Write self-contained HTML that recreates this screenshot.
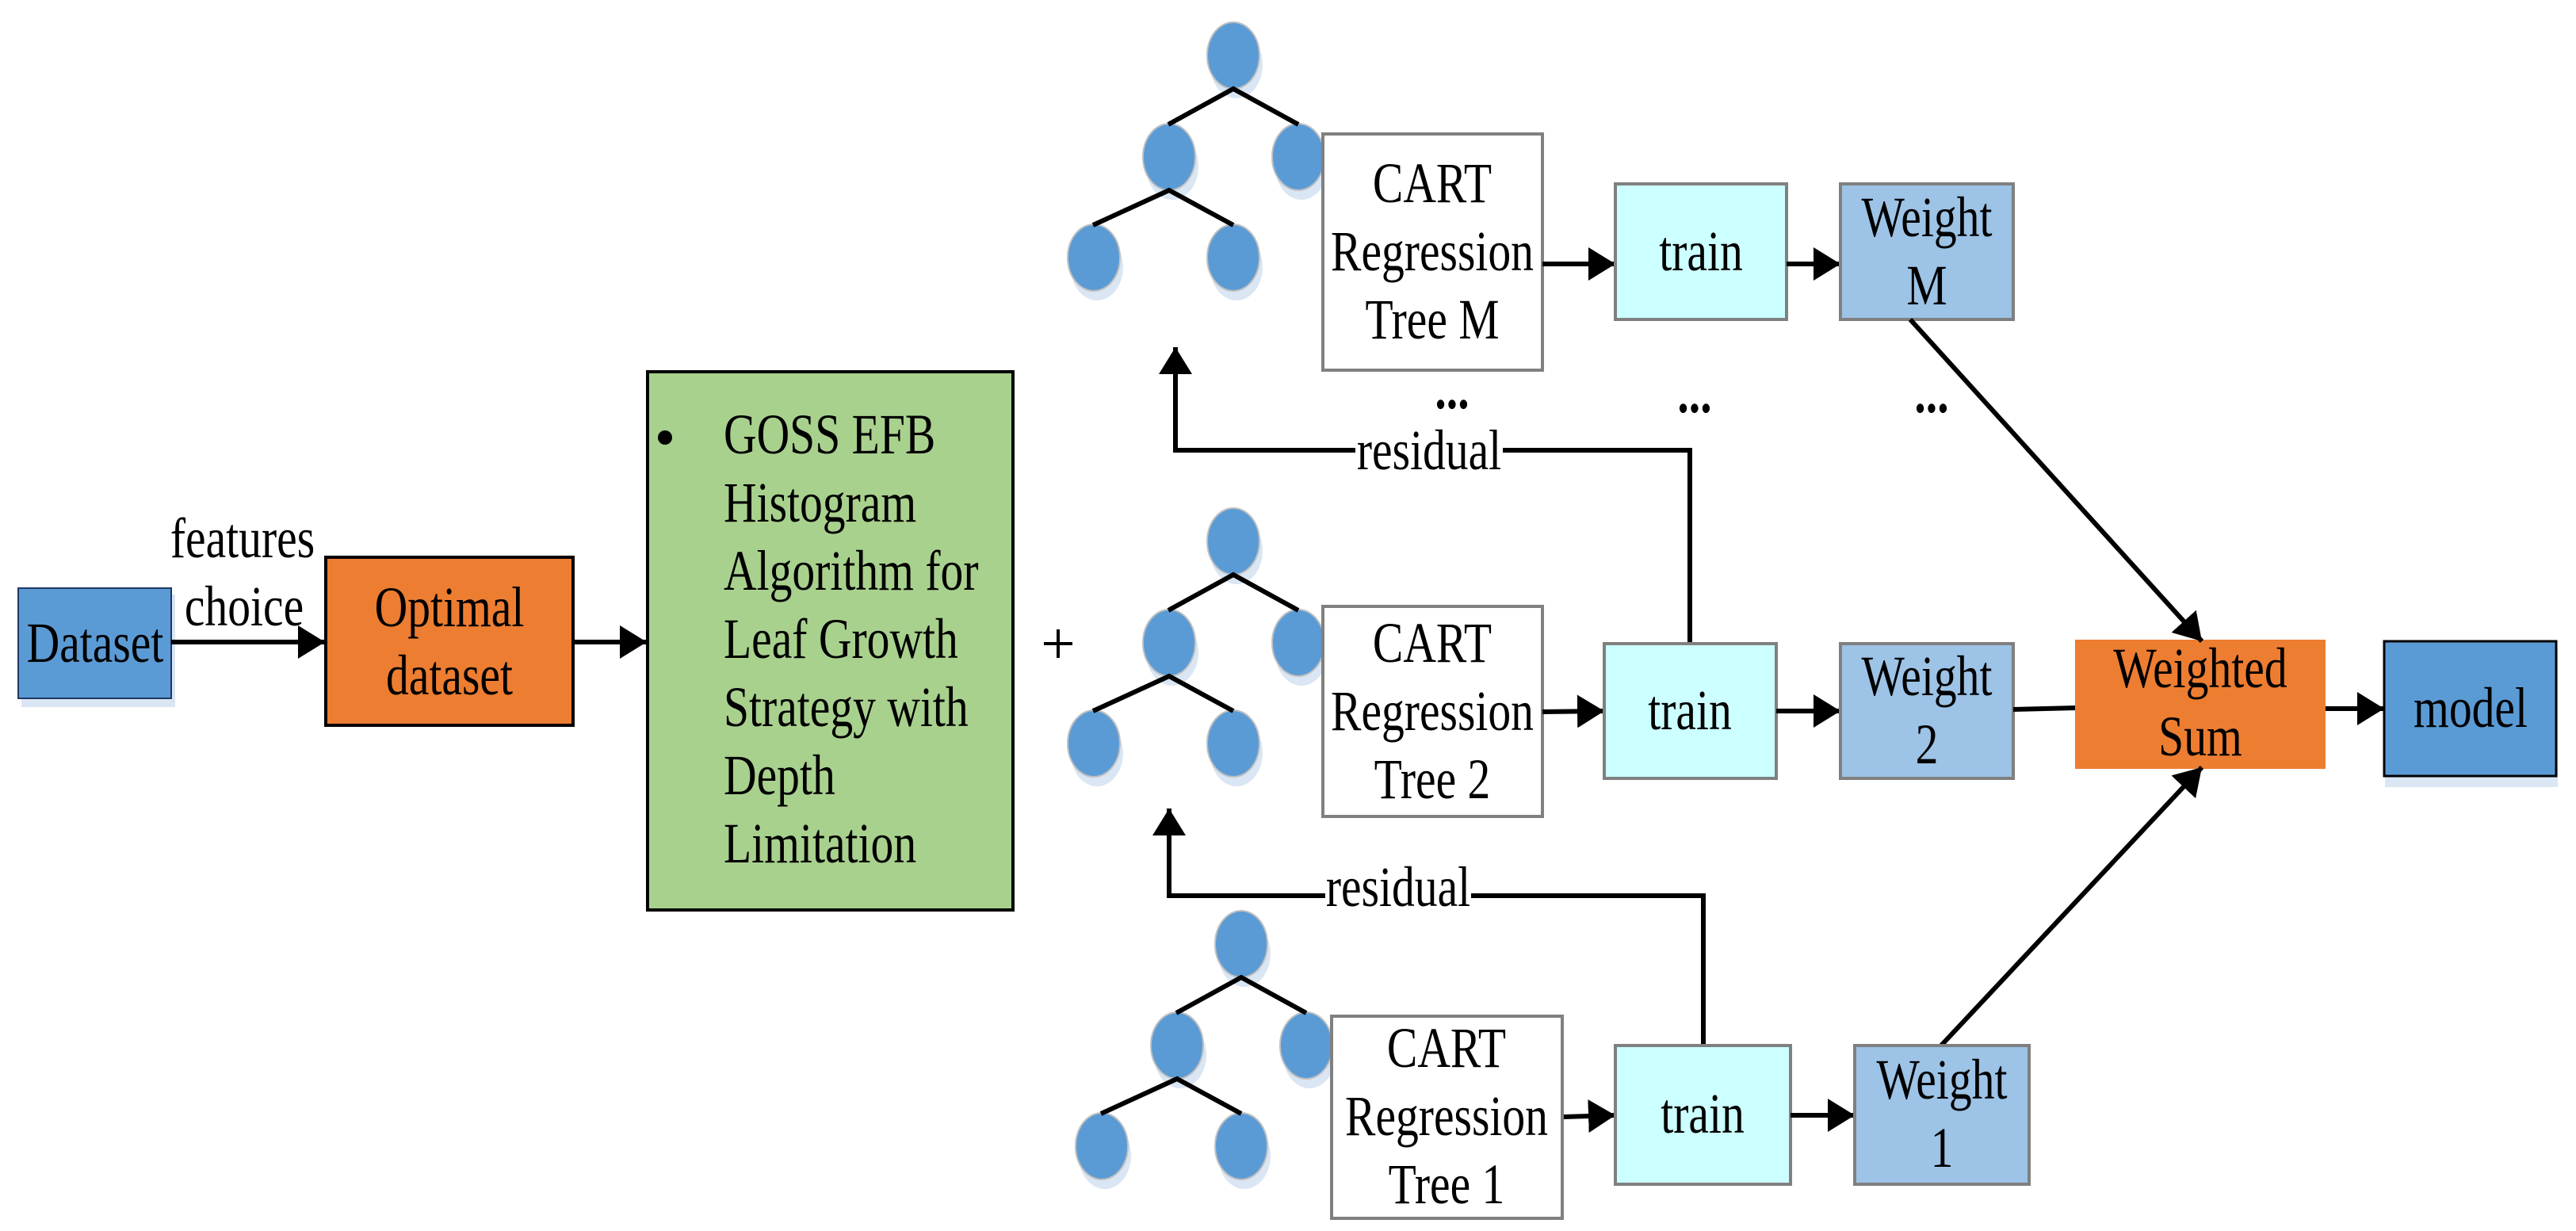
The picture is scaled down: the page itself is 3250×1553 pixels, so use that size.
<!DOCTYPE html>
<html><head><meta charset="utf-8"><style>
html,body{margin:0;padding:0;background:#fff;}
svg{display:block;}
svg text{font-family:"Liberation Serif","Times New Roman","DejaVu Serif",serif;font-size:72px;fill:#000;}
</style></head><body>
<svg width="3250" height="1553" viewBox="0 0 3250 1553" xmlns="http://www.w3.org/2000/svg" font-family="Liberation Serif, Times New Roman, DejaVu Serif, serif">
<defs>
<g id="tree">
  <g fill="#dae6f3">
    <ellipse cx="1560" cy="82" rx="33" ry="42"/>
    <ellipse cx="1479" cy="210" rx="33" ry="42"/>
    <ellipse cx="1642" cy="210" rx="33" ry="42"/>
    <ellipse cx="1384" cy="337" rx="33" ry="42"/>
    <ellipse cx="1560" cy="337" rx="33" ry="42"/>
  </g>
  <g fill="#5b9bd5" stroke="#c0c0c0" stroke-width="2">
    <ellipse cx="1556" cy="70" rx="33" ry="42"/>
    <ellipse cx="1475" cy="198" rx="33" ry="42"/>
    <ellipse cx="1638" cy="198" rx="33" ry="42"/>
    <ellipse cx="1380" cy="325" rx="33" ry="42"/>
    <ellipse cx="1556" cy="325" rx="33" ry="42"/>
  </g>
  <g stroke="#000" stroke-width="6" fill="none">
    <polyline points="1474,157 1556,112 1638,157"/>
    <polyline points="1379,284 1475,240 1556,284"/>
  </g>
</g>
<marker id="ah" viewBox="0 0 34 42" refX="34" refY="21" markerWidth="34" markerHeight="42" markerUnits="userSpaceOnUse" orient="auto">
  <path d="M0,0 L34,21 L0,42 Z" fill="#000"/>
</marker>
</defs>

<rect x="27" y="750" width="194" height="142" fill="#dae6f3"/>
<rect x="23" y="742" width="193" height="139" fill="#5b9bd5" stroke="#1f3864" stroke-width="2"/>
<text transform="translate(120,835) scale(0.8,1)" text-anchor="middle">Dataset</text>

<text transform="translate(306,703) scale(0.8,1)" text-anchor="middle">features</text>
<text transform="translate(308,789) scale(0.8,1)" text-anchor="middle">choice</text>
<line x1="216" y1="810" x2="410" y2="810" stroke="#000" stroke-width="6" marker-end="url(#ah)"/>

<rect x="411" y="703" width="312" height="212" fill="#ed7d31" stroke="#000" stroke-width="4"/>
<text transform="translate(567,790) scale(0.8,1)" text-anchor="middle">Optimal</text>
<text transform="translate(567,876) scale(0.8,1)" text-anchor="middle">dataset</text>
<line x1="723" y1="810" x2="816" y2="810" stroke="#000" stroke-width="6" marker-end="url(#ah)"/>

<rect x="817" y="469" width="461" height="679" fill="#a9d18e" stroke="#000" stroke-width="4"/>
<circle cx="839" cy="552" r="9" fill="#000"/>
<text transform="translate(913,572) scale(0.8,1)">GOSS EFB</text>
<text transform="translate(913,658) scale(0.8,1)">Histogram</text>
<text transform="translate(913,744) scale(0.8,1)">Algorithm for</text>
<text transform="translate(913,830) scale(0.8,1)">Leaf Growth</text>
<text transform="translate(913,916) scale(0.8,1)">Strategy with</text>
<text transform="translate(913,1002) scale(0.8,1)">Depth</text>
<text transform="translate(913,1088) scale(0.8,1)">Limitation</text>
<g stroke="#000" stroke-width="4">
  <line x1="1317" y1="812" x2="1353" y2="812"/>
  <line x1="1335" y1="794" x2="1335" y2="830"/>
</g>

<use href="#tree"/>
<use href="#tree" transform="translate(0,613)"/>
<use href="#tree" transform="translate(10,1121)"/>

<g stroke="#000" stroke-width="6" fill="none">
  <polyline points="2132,812 2132,568 1483,568 1483,438" marker-end="url(#ah)"/>
  <polyline points="2149,1319 2149,1130 1475,1130 1475,1020" marker-end="url(#ah)"/>
</g>
<rect x="1710" y="540" width="186" height="62" fill="#fff"/>
<text transform="translate(1803,592) scale(0.8,1)" text-anchor="middle">residual</text>
<rect x="1672" y="1100" width="184" height="58" fill="#fff"/>
<text transform="translate(1764,1143) scale(0.8,1)" text-anchor="middle">residual</text>

<rect x="1669" y="169" width="277" height="298" fill="#fff" stroke="#808080" stroke-width="4"/>
<text transform="translate(1807,255) scale(0.8,1)" text-anchor="middle">CART</text>
<text transform="translate(1807,341) scale(0.8,1)" text-anchor="middle">Regression</text>
<text transform="translate(1807,427) scale(0.8,1)" text-anchor="middle">Tree M</text>
<line x1="1946" y1="333" x2="2038" y2="333" stroke="#000" stroke-width="6" marker-end="url(#ah)"/>
<rect x="2038" y="232" width="216" height="171" fill="#ccffff" stroke="#808080" stroke-width="4"/>
<text transform="translate(2146,341) scale(0.8,1)" text-anchor="middle">train</text>
<line x1="2254" y1="333" x2="2322" y2="333" stroke="#000" stroke-width="6" marker-end="url(#ah)"/>
<rect x="2322" y="232" width="218" height="171" fill="#9dc3e6" stroke="#808080" stroke-width="4"/>
<text transform="translate(2431,298) scale(0.8,1)" text-anchor="middle">Weight</text>
<text transform="translate(2431,384) scale(0.8,1)" text-anchor="middle">M</text>

<text transform="translate(1832,515) scale(0.8,1)" text-anchor="middle" font-weight="bold">...</text>
<text transform="translate(2138,520) scale(0.8,1)" text-anchor="middle" font-weight="bold">...</text>
<text transform="translate(2437,520) scale(0.8,1)" text-anchor="middle" font-weight="bold">...</text>

<rect x="1669" y="765" width="277" height="265" fill="#fff" stroke="#808080" stroke-width="4"/>
<text transform="translate(1807,835) scale(0.8,1)" text-anchor="middle">CART</text>
<text transform="translate(1807,921) scale(0.8,1)" text-anchor="middle">Regression</text>
<text transform="translate(1807,1007) scale(0.8,1)" text-anchor="middle">Tree 2</text>
<line x1="1946" y1="898" x2="2024" y2="897" stroke="#000" stroke-width="6" marker-end="url(#ah)"/>
<rect x="2024" y="812" width="217" height="170" fill="#ccffff" stroke="#808080" stroke-width="4"/>
<text transform="translate(2132,920) scale(0.8,1)" text-anchor="middle">train</text>
<line x1="2241" y1="897" x2="2322" y2="897" stroke="#000" stroke-width="6" marker-end="url(#ah)"/>
<rect x="2322" y="812" width="218" height="170" fill="#9dc3e6" stroke="#808080" stroke-width="4"/>
<text transform="translate(2431,877) scale(0.8,1)" text-anchor="middle">Weight</text>
<text transform="translate(2431,963) scale(0.8,1)" text-anchor="middle">2</text>
<line x1="2540" y1="895" x2="2620" y2="893" stroke="#000" stroke-width="6"/>

<rect x="2618" y="807" width="316" height="163" fill="#ed7d31"/>
<text transform="translate(2776,867) scale(0.8,1)" text-anchor="middle">Weighted</text>
<text transform="translate(2776,953) scale(0.8,1)" text-anchor="middle">Sum</text>
<line x1="2934" y1="894" x2="3008" y2="894" stroke="#000" stroke-width="6" marker-end="url(#ah)"/>

<rect x="3009" y="819" width="218" height="174" fill="#dae6f3"/>
<rect x="3008" y="809" width="217" height="170" fill="#5b9bd5" stroke="#000" stroke-width="3"/>
<text transform="translate(3117,917) scale(0.8,1)" text-anchor="middle">model</text>

<line x1="2410" y1="403" x2="2778" y2="809" stroke="#000" stroke-width="6" marker-end="url(#ah)"/>
<line x1="2449" y1="1319" x2="2778" y2="968" stroke="#000" stroke-width="6" marker-end="url(#ah)"/>

<rect x="1680" y="1282" width="291" height="255" fill="#fff" stroke="#808080" stroke-width="4"/>
<text transform="translate(1825,1346) scale(0.8,1)" text-anchor="middle">CART</text>
<text transform="translate(1825,1432) scale(0.8,1)" text-anchor="middle">Regression</text>
<text transform="translate(1825,1518) scale(0.8,1)" text-anchor="middle">Tree 1</text>
<line x1="1973" y1="1409" x2="2038" y2="1407" stroke="#000" stroke-width="6" marker-end="url(#ah)"/>
<rect x="2038" y="1319" width="221" height="175" fill="#ccffff" stroke="#808080" stroke-width="4"/>
<text transform="translate(2148,1429) scale(0.8,1)" text-anchor="middle">train</text>
<line x1="2259" y1="1407" x2="2340" y2="1407" stroke="#000" stroke-width="6" marker-end="url(#ah)"/>
<rect x="2340" y="1319" width="220" height="175" fill="#9dc3e6" stroke="#808080" stroke-width="4"/>
<text transform="translate(2450,1386) scale(0.8,1)" text-anchor="middle">Weight</text>
<text transform="translate(2450,1472) scale(0.8,1)" text-anchor="middle">1</text>
</svg>
</body></html>
